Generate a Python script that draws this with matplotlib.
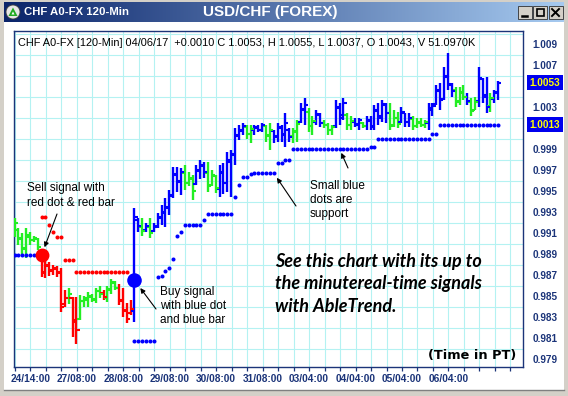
import numpy as np
import matplotlib.pyplot as plt
from matplotlib.patches import Rectangle, Circle, Polygon
from matplotlib.colors import LinearSegmentedColormap

plt.rcParams['font.family'] = ['Liberation Sans', 'DejaVu Sans']

#--------------------------------------
# USD/CHF 120-min bars
highs = [0.9924, 0.9915, 0.9910, 0.9915, 0.9911, 0.9907, 0.9905, 0.9889, 0.9886, 0.9882,
         0.9880, 0.9879, 0.9877, 0.9856, 0.9858, 0.9849, 0.9849, 0.9851, 0.9850, 0.9854,
         0.9852, 0.9858, 0.9860, 0.9856, 0.9860, 0.9866, 0.9864, 0.9861, 0.9858, 0.9843,
         0.9846, 0.9934, 0.9924, 0.9924, 0.9920, 0.9924, 0.9920, 0.9929, 0.9937, 0.9943,
         0.9951, 0.9973, 0.9973, 0.9972, 0.9975, 0.9968, 0.9965, 0.9975, 0.9980, 0.9978,
         0.9978, 0.9970, 0.9965, 0.9975, 0.9977, 0.9987, 0.9989, 1.0010, 1.0013, 1.0015,
         1.0013, 1.0013, 1.0013, 1.0013, 1.0015, 1.0013, 1.0015, 1.0008, 1.0015, 1.0013,
         1.0024, 1.0010, 1.0010, 1.0018, 1.0034, 1.0039, 1.0029, 1.0021, 1.0027, 1.0024,
         1.0018, 1.0015, 1.0013, 1.0037, 1.0034, 1.0039, 1.0024, 1.0021, 1.0020, 1.0020,
         1.0016, 1.0021, 1.0021, 1.0032, 1.0034, 1.0037, 1.0034, 1.0034, 1.0027, 1.0025,
         1.0030, 1.0024, 1.0024, 1.0021, 1.0020, 1.0020, 1.0018, 1.0034, 1.0034, 1.0051,
         1.0053, 1.0068, 1.0081, 1.0053, 1.0049, 1.0049, 1.0051, 1.0043, 1.0039, 1.0040,
         1.0068, 1.0058, 1.0059, 1.0043, 1.0046, 1.0055]
lows = [0.9906, 0.9899, 0.9889, 0.9886, 0.9899, 0.9901, 0.9894, 0.9868, 0.9867, 0.9869,
        0.9870, 0.9868, 0.9835, 0.9840, 0.9842, 0.9811, 0.9804, 0.9827, 0.9840, 0.9840,
        0.9844, 0.9843, 0.9848, 0.9846, 0.9844, 0.9852, 0.9856, 0.9841, 0.9830, 0.9824,
        0.9832, 0.9825, 0.9911, 0.9907, 0.9911, 0.9905, 0.9911, 0.9915, 0.9918, 0.9916,
        0.9927, 0.9943, 0.9949, 0.9946, 0.9951, 0.9955, 0.9941, 0.9956, 0.9961, 0.9962,
        0.9949, 0.9955, 0.9948, 0.9944, 0.9947, 0.9949, 0.9944, 0.9975, 0.9999, 1.0003,
        1.0000, 0.9996, 1.0003, 1.0006, 1.0006, 0.9997, 0.9989, 0.9996, 0.9997, 0.9997,
        0.9992, 0.9997, 0.9996, 0.9997, 1.0015, 1.0013, 1.0006, 1.0003, 1.0013, 1.0011,
        1.0010, 1.0003, 1.0003, 1.0010, 1.0013, 1.0018, 1.0008, 1.0008, 1.0011, 1.0008,
        1.0010, 1.0008, 1.0008, 1.0008, 1.0013, 1.0016, 1.0015, 1.0008, 1.0011, 1.0010,
        1.0015, 1.0011, 1.0011, 1.0008, 1.0010, 1.0011, 1.0010, 1.0008, 1.0021, 1.0032,
        1.0027, 1.0037, 1.0046, 1.0040, 1.0030, 1.0032, 1.0037, 1.0032, 1.0021, 1.0027,
        1.0030, 1.0034, 1.0024, 1.0025, 1.0034, 1.0037]
opens = [0.9910, 0.9913, 0.9904, 0.9895, 0.9906, 0.9903, 0.9904, 0.9887, 0.9873, 0.9879,
         0.9874, 0.9876, 0.9873, 0.9842, 0.9848, 0.9848, 0.9827, 0.9828, 0.9845, 0.9846,
         0.9849, 0.9846, 0.9855, 0.9853, 0.9848, 0.9856, 0.9862, 0.9858, 0.9845, 0.9837,
         0.9834, 0.9836, 0.9922, 0.9916, 0.9913, 0.9916, 0.9912, 0.9917, 0.9924, 0.9929,
         0.9934, 0.9946, 0.9965, 0.9959, 0.9967, 0.9958, 0.9961, 0.9957, 0.9969, 0.9974,
         0.9967, 0.9956, 0.9964, 0.9952, 0.9967, 0.9958, 0.9978, 0.9984, 1.0002, 1.0007,
         1.0011, 1.0004, 1.0008, 1.0010, 1.0008, 1.0012, 1.0003, 1.0007, 1.0002, 1.0010,
         1.0004, 1.0008, 1.0002, 1.0006, 1.0016, 1.0027, 1.0025, 1.0012, 1.0016, 1.0022,
         1.0015, 1.0013, 1.0008, 1.0012, 1.0029, 1.0022, 1.0022, 1.0013, 1.0016, 1.0014,
         1.0015, 1.0012, 1.0017, 1.0012, 1.0026, 1.0021, 1.0032, 1.0024, 1.0013, 1.0020,
         1.0016, 1.0024, 1.0016, 1.0019, 1.0012, 1.0015, 1.0013, 1.0015, 1.0027, 1.0033,
         1.0045, 1.0038, 1.0059, 1.0051, 1.0046, 1.0036, 1.0043, 1.0040, 1.0035, 1.0027,
         1.0036, 1.0057, 1.0041, 1.0031, 1.0038, 1.0043]
closes = [0.9920, 0.9905, 0.9896, 0.9908, 0.9903, 0.9905, 0.9897, 0.9872, 0.9880, 0.9875,
          0.9877, 0.9872, 0.9840, 0.9848, 0.9852, 0.9825, 0.9818, 0.9845, 0.9848, 0.9850,
          0.9847, 0.9855, 0.9852, 0.9849, 0.9857, 0.9863, 0.9858, 0.9846, 0.9836, 0.9828,
          0.9838, 0.9925, 0.9917, 0.9912, 0.9917, 0.9910, 0.9916, 0.9925, 0.9930, 0.9935,
          0.9945, 0.9966, 0.9960, 0.9968, 0.9958, 0.9962, 0.9950, 0.9970, 0.9975, 0.9968,
          0.9955, 0.9965, 0.9953, 0.9968, 0.9958, 0.9980, 0.9985, 1.0003, 1.0008, 1.0012,
          1.0004, 1.0009, 1.0011, 1.0008, 1.0013, 1.0002, 1.0008, 1.0001, 1.0011, 1.0003,
          1.0015, 1.0001, 1.0007, 1.0014, 1.0028, 1.0032, 1.0012, 1.0017, 1.0023, 1.0015,
          1.0013, 1.0008, 1.0011, 1.0030, 1.0020, 1.0034, 1.0013, 1.0017, 1.0013, 1.0018,
          1.0012, 1.0018, 1.0011, 1.0027, 1.0020, 1.0033, 1.0024, 1.0012, 1.0020, 1.0014,
          1.0025, 1.0016, 1.0020, 1.0012, 1.0016, 1.0013, 1.0016, 1.0029, 1.0031, 1.0046,
          1.0037, 1.0060, 1.0052, 1.0045, 1.0035, 1.0044, 1.0040, 1.0036, 1.0026, 1.0035,
          1.0058, 1.0040, 1.0030, 1.0039, 1.0044, 1.0053]
# bar colour: b = up trend, r = down trend, g = neutral
trend = ("ggggggg rrrrrrr g rr gggggg r ggg rrrr bb g b g bbbbbbbb ggg bbb ggg bbbbbbb "
         "gg bbb gg bbbbb gg bb gg bb ggg bbb gg bb g bbbbbb ggg bbb gggg bbbbbbb ggg b "
         "gg bbb g bb").replace(" ", "")

# stop dots: (first bar, last bar, level)
support_runs = [(0, 6, 0.9889), (31, 36, 0.9807), (37, 37, 0.9868), (38, 38, 0.9869),
                (39, 39, 0.9874), (40, 40, 0.9877), (41, 41, 0.9885), (42, 42, 0.9907),
                (43, 43, 0.9911), (44, 48, 0.9918), (49, 49, 0.9922), (50, 56, 0.9928),
                (57, 57, 0.9944), (58, 58, 0.9956), (59, 60, 0.9963), (61, 61, 0.9966),
                (62, 67, 0.9967), (68, 69, 0.9977), (70, 71, 0.9980), (72, 91, 0.9990),
                (92, 93, 0.9992), (94, 107, 1.0000), (108, 109, 1.0004), (110, 125, 1.0013)]
resist_runs = [(7, 8, 0.9925), (9, 9, 0.9918), (10, 10, 0.9911), (11, 12, 0.9906),
               (13, 15, 0.9884), (16, 29, 0.9873)]

sell_idx, sell_price = 7, 0.9889
buy_idx, buy_price = 31, 0.9865
last_close, last_stop = 1.0053, 1.0013

date_labels = ['24/14:00', '27/08:00', '28/08:00', '29/08:00', '30/08:00',
               '31/08:00', '03/04:00', '04/04:00', '05/04:00', '06/04:00']
price_labels = [1.009, 1.007, 1.003, 0.999, 0.997, 0.995, 0.993, 0.991,
                0.989, 0.987, 0.985, 0.983, 0.981, 0.979]
header = ("CHF A0-FX [120-Min] 04/06/17  +0.0010 C 1.0053, H 1.0055, L 1.0037, "
          "O 1.0043, V 51.0970K")
#--------------------------------------
W, H = 568, 396
navy = '#1B3479'
blue, green, red = '#0000FF', '#22EE22', '#FF0000'
colmap = {'b': blue, 'g': green, 'r': red}

fig = plt.figure(figsize=(W / 100, H / 100), dpi=100)
fig.patch.set_facecolor('white')

ax = fig.add_axes([14 / W, 1 - 367 / H, (523 - 14) / W, (367 - 31) / H])
ov = fig.add_axes([0, 0, 1, 1], zorder=3)
ov.patch.set_visible(False)
ov.axis('off')

# window chrome
grad = LinearSegmentedColormap.from_list('tb', ['#0A246A', '#A6CAF0'])
ov.imshow(np.linspace(0, 1, 256)[None, :], extent=(4, 564, 22, 2), cmap=grad, aspect='auto')
ov.set_xlim(0, W)
ov.set_ylim(H, 0)
for r in [(0, 0, 4, H), (564, 0, 4, H), (0, 0, W, 2), (0, 390, W, 6)]:
    ov.add_patch(Rectangle(r[:2], r[2], r[3], fc='#D4D0C8', ec='none'))
ov.plot([4, 564], [390, 390], color='#808080', lw=1)
ov.add_patch(Circle((13, 12), 7, fc='#E6E6E6', ec='#404040', lw=0.6))
ov.add_patch(Polygon([(8.5, 16), (17.5, 16), (13, 7.5)], fc='#22AA22', ec='none'))
ov.add_patch(Polygon([(11.5, 14.5), (14.5, 14.5), (13, 11.5)], fc='white', ec='none'))
for bx in (518, 533, 549):
    ov.add_patch(Rectangle((bx, 6), 14, 13, fc='#D4D0C8', ec='#303030', lw=0.6))
ov.plot([521.5, 527], [16, 16], color='black', lw=1.8)
ov.add_patch(Rectangle((536.5, 8.5), 7, 7.5, fc='none', ec='black', lw=1.2))
ov.plot([552, 559], [9, 16], color='black', lw=1.4)
ov.plot([552, 559], [16, 9], color='black', lw=1.4)
ov.text(24, 12, 'CHF A0-FX 120-Min', color='white', fontsize=8.2, fontweight='bold', va='center')
ov.text(270, 12, 'USD/CHF (FOREX)', color='white', fontsize=11, fontweight='bold',
        va='center', ha='center')

# OHLC bars
idx = np.arange(len(highs))
cols = [colmap[c] for c in trend]
ax.vlines(idx, lows, highs, colors=cols, lw=1.7, zorder=3)
ax.hlines(opens, idx - 0.8, idx, colors=cols, lw=1.5, zorder=3)
ax.hlines(closes, idx, idx + 0.8, colors=cols, lw=1.5, zorder=3)

# stop dots
for runs, c in ((support_runs, blue), (resist_runs, red)):
    for a, b, lvl in runs:
        xs = np.arange(a, b + 1)
        ax.plot(xs, np.full(len(xs), lvl), 'o', ms=2.9, color=c, mec='none', zorder=4)

ax.plot(sell_idx, sell_price, 'o', ms=10, color=red, mec='none', zorder=5)
ax.plot(buy_idx, buy_price, 'o', ms=10.5, color=blue, mec='none', zorder=5)

# axes
ax.set_xlim(-0.13, 131.4)
ax.set_ylim(0.97824, 1.01024)
for s in ax.spines.values():
    s.set_color(navy)
    s.set_linewidth(1.0)

xt = 0.13 + 4 * np.arange(33)
xl = ['' for _ in xt]
for n, lab in enumerate(date_labels):
    xl[1 + 3 * n] = lab
ax.set_xticks(xt)
ax.set_xticklabels(xl, fontsize=7.3, fontweight='bold', color=navy)
ax.tick_params(axis='x', length=3, width=0.9, color=navy, direction='out', pad=2)

ax.yaxis.tick_right()
ax.set_yticks(price_labels)
ax.set_yticklabels(['%.3f' % v for v in price_labels], fontsize=7.2,
                   fontweight='bold', color=navy, ha='center')
ax.tick_params(axis='y', length=0, pad=15.8)
ax.set_yticks(np.arange(0.980, 1.0101, 0.002), minor=True)
ax.tick_params(axis='y', which='minor', length=0)
ax.grid(True, axis='x', which='major', color='#B4F2F2', lw=0.8, zorder=0)
ax.grid(True, axis='y', which='minor', color='#B4F2F2', lw=0.8, zorder=0)
ax.set_axisbelow(True)

for v in (last_close, last_stop):
    ax.annotate('%.4f' % v, xy=(1, v), xycoords=('axes fraction', 'data'),
                xytext=(15.8, 0), textcoords='offset points', ha='center', va='center',
                fontsize=7.2, fontweight='bold', color='#FFFF00', annotation_clip=False,
                bbox=dict(boxstyle='square,pad=0.25', fc='#0000EE', ec='none'))

# texts
ov.text(18, 43, header, fontsize=7.9, va='center', color='black')
for t, y in (('Sell signal with', 188), ('red dot & red bar', 203)):
    ov.text(27, y, t, fontsize=8.5, va='center')
for t, y in (('Buy signal', 292), ('with blue dot', 306), ('and blue bar', 320)):
    ov.text(160, y, t, fontsize=8.5, va='center')
for t, y in (('Small blue', 186), ('dots are', 200), ('support', 214)):
    ov.text(310, y, t, fontsize=8.5, va='center')
for t, y in (('See this chart with its up to', 262), ('the minutereal-time signals', 284),
             ('with AbleTrend.', 306)):
    ov.text(275, y, t, fontsize=13, va='center', family=['Lato', 'DejaVu Sans'],
            fontweight='bold', style='italic')
ov.text(428, 355, '(Time in PT)', fontsize=9.3, va='center', family='DejaVu Sans',
        fontweight='bold')

arrow = dict(arrowstyle='-|>', color='black', lw=0.8, mutation_scale=7)
ax.annotate('', xy=(sell_idx, sell_price), xytext=(57, 214), textcoords=ov.transData,
            arrowprops=dict(arrow, shrinkA=0, shrinkB=6))
ax.annotate('', xy=(buy_idx, buy_price), xytext=(156, 309), textcoords=ov.transData,
            arrowprops=dict(arrow, shrinkA=0, shrinkB=7))
ax.annotate('', xy=(67, 0.9967), xytext=(296, 206), textcoords=ov.transData,
            arrowprops=dict(arrow, shrinkA=0, shrinkB=4))
ax.annotate('', xy=(84, 0.9990), xytext=(348, 168), textcoords=ov.transData,
            arrowprops=dict(arrow, shrinkA=0, shrinkB=3))

fig.savefig('out.png', dpi=100)
